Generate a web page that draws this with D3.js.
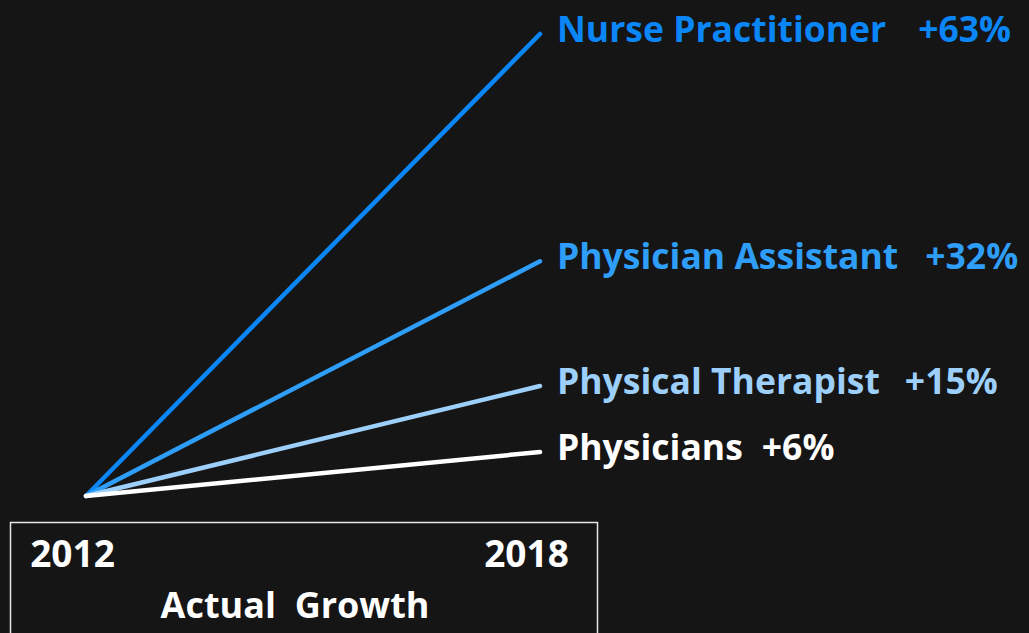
<!DOCTYPE html>
<html>
<head>
<meta charset="utf-8">
<script src="https://cdn.jsdelivr.net/npm/d3@7"></script>
<style>
  html, body { margin: 0; padding: 0; background: #151515; }
  svg { display: block; }
  text { font-family: "Open Sans", "Noto Sans", sans-serif; font-weight: 700; }
</style>
</head>
<body>
<svg id="chart"></svg>
<script>
// Data
const categories = ["Nurse Practitioner", "Physician Assistant", "Physical Therapist", "Physicians"];
const growth = [63, 32, 15, 6];
const years = [2012, 2018];
const colors = ["#0a86f7", "#2f9ef8", "#9dcffb", "#ffffff"];
// gap between name and percentage
const gaps = [32, 27, 25, 19];

const width = 1029, height = 633;

const svg = d3.select("#chart")
    .attr("width", width)
    .attr("height", height);

// Scales
const x = d3.scaleLinear().domain(years).range([86, 540]);
const y = d3.scaleLinear().domain([0, 63]).range([496, 34]);

// Lines from 2012 (0%) to 2018 (growth)
svg.selectAll("line.growth")
  .data(categories)
  .enter()
  .append("line")
    .attr("class", "growth")
    .attr("x1", x(years[0]))
    .attr("y1", y(0))
    .attr("x2", x(years[1]))
    .attr("y2", (d, i) => y(growth[i]))
    .attr("stroke", (d, i) => colors[i])
    .attr("stroke-width", 4.5)
    .attr("stroke-linecap", "round");

// End labels
const labels = svg.selectAll("text.label")
  .data(categories)
  .enter()
  .append("text")
    .attr("class", "label")
    .attr("x", x(years[1]) + 17)
    .attr("y", (d, i) => y(growth[i]) + 8)
    .attr("fill", (d, i) => colors[i])
    .style("font-size", "35.5px");

labels.append("tspan").text(d => d);
labels.append("tspan")
    .attr("dx", (d, i) => gaps[i])
    .text((d, i) => "+" + growth[i] + "%");

// Axis box
svg.append("rect")
    .attr("x", 10.5)
    .attr("y", 522.5)
    .attr("width", 587)
    .attr("height", 130)
    .attr("fill", "none")
    .attr("stroke", "#e6e6e6")
    .attr("stroke-width", 1.5);

const xAxis = svg.append("g")
    .attr("transform", "translate(-14,567)")
    .call(d3.axisBottom(x).tickValues(years).tickFormat(d3.format("d")).tickSize(0).tickPadding(0));
xAxis.select(".domain").remove();
xAxis.selectAll("text")
    .attr("dy", 0)
    .attr("fill", "#ffffff")
    .style("font-size", "37px")
    .style("font-family", "'Open Sans', sans-serif");

svg.append("text")
    .attr("x", 295)
    .attr("y", 618)
    .attr("text-anchor", "middle")
    .attr("fill", "#ffffff")
    .style("font-size", "36px")
    .attr("xml:space", "preserve")
    .text("Actual  Growth");
</script>
</body>
</html>
